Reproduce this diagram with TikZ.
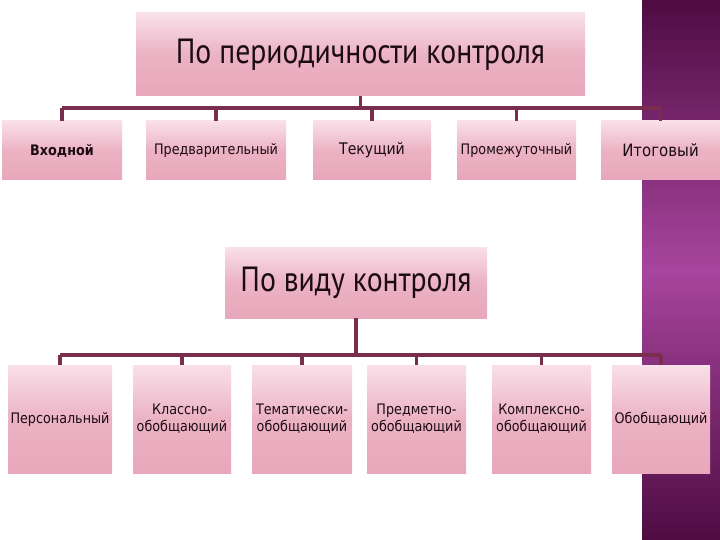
\documentclass[tikz,border=0pt]{standalone}
\usepackage{fontspec}
\setmainfont{DejaVu Sans}
\newfontfamily\headfont[FakeStretch=0.85]{PT Sans}
\newfontfamily\boxfont[FakeStretch=0.88]{DejaVu Sans}
\definecolor{band1}{HTML}{4E0C42}
\definecolor{band2}{HTML}{A8459E}
\definecolor{boxtop}{HTML}{F9E0E8}
\definecolor{boxbot}{HTML}{E8A7BB}
\definecolor{conncol}{HTML}{7A2E4E}
\definecolor{txt}{HTML}{1C0C12}
\tikzset{
  pbox/.style={rectangle, inner sep=1pt, top color=boxtop, bottom color=boxbot, middle color=boxbot!80!boxtop, text=txt, align=center},
  conn/.style={draw=conncol, line width=3.4pt},
}
\begin{document}
\begin{tikzpicture}[x=1pt,y=-1pt]
\useasboundingbox (0,0) rectangle (720,540);
\fill[white] (0,0) rectangle (720,540);
\shade[top color=band1, bottom color=band1, middle color=band2] (642,0) rectangle (720,540);
% top level
\node[pbox, minimum width=449pt, minimum height=83pt, font=\headfont\fontsize{35}{38}\selectfont] (t1) at (360.5,54.5) {По периодичности контроля};
\node[pbox, minimum width=120pt, minimum height=59pt, font=\boxfont\bfseries\fontsize{14.5}{17}\selectfont] (a1) at (62,150.5) {Входной};
\node[pbox, minimum width=140pt, minimum height=59pt, font=\boxfont\fontsize{14.5}{17}\selectfont] (a2) at (216,150.5) {Предварительный};
\node[pbox, minimum width=118pt, minimum height=59pt, font=\boxfont\fontsize{16}{18}\selectfont] (a3) at (372,150.5) {Текущий};
\node[pbox, minimum width=119pt, minimum height=59pt, font=\boxfont\fontsize{14.5}{17}\selectfont] (a4) at (516.5,150.5) {Промежуточный};
\node[pbox, minimum width=119pt, minimum height=59pt, font=\boxfont\fontsize{17}{19}\selectfont] (a5) at (660.5,150.5) {Итоговый};
\coordinate (bus1) at (0,108);
% second level
\node[pbox, minimum width=262pt, minimum height=71pt, font=\headfont\fontsize{35}{38}\selectfont] (t2) at (356,282.5) {По виду контроля};
\tikzset{lowbox/.style={pbox, minimum height=108pt, font=\boxfont\fontsize{14.5}{17}\selectfont}}
\node[lowbox, minimum width=104pt] (b1) at (60,419) {Персональный};
\node[lowbox, minimum width=98pt] (b2) at (182,419) {Классно-\\обобщающий};
\node[lowbox, minimum width=100pt] (b3) at (302,419) {Тематически-\\обобщающий};
\node[lowbox, minimum width=99pt] (b4) at (416.5,419) {Предметно-\\обобщающий};
\node[lowbox, minimum width=99pt] (b5) at (541.5,419) {Комплексно-\\обобщающий};
\node[lowbox, minimum width=98pt] (b6) at (661,419) {Обобщающий};
\coordinate (bus2) at (0,355);
% connectors
\draw[conn] (a1.north |- bus1) -- (a5.north |- bus1);
\draw[conn] (t1.south) -- (t1.south |- bus1);
\foreach \c in {a1,a2,a3,a4,a5} \draw[conn] (\c.north |- bus1) -- (\c.north);
\draw[conn] (b1.north |- bus2) -- (b6.north |- bus2);
\draw[conn] (t2.south) -- (t2.south |- bus2);
\foreach \c in {b1,b2,b3,b4,b5,b6} \draw[conn] (\c.north |- bus2) -- (\c.north);
\end{tikzpicture}
\end{document}
